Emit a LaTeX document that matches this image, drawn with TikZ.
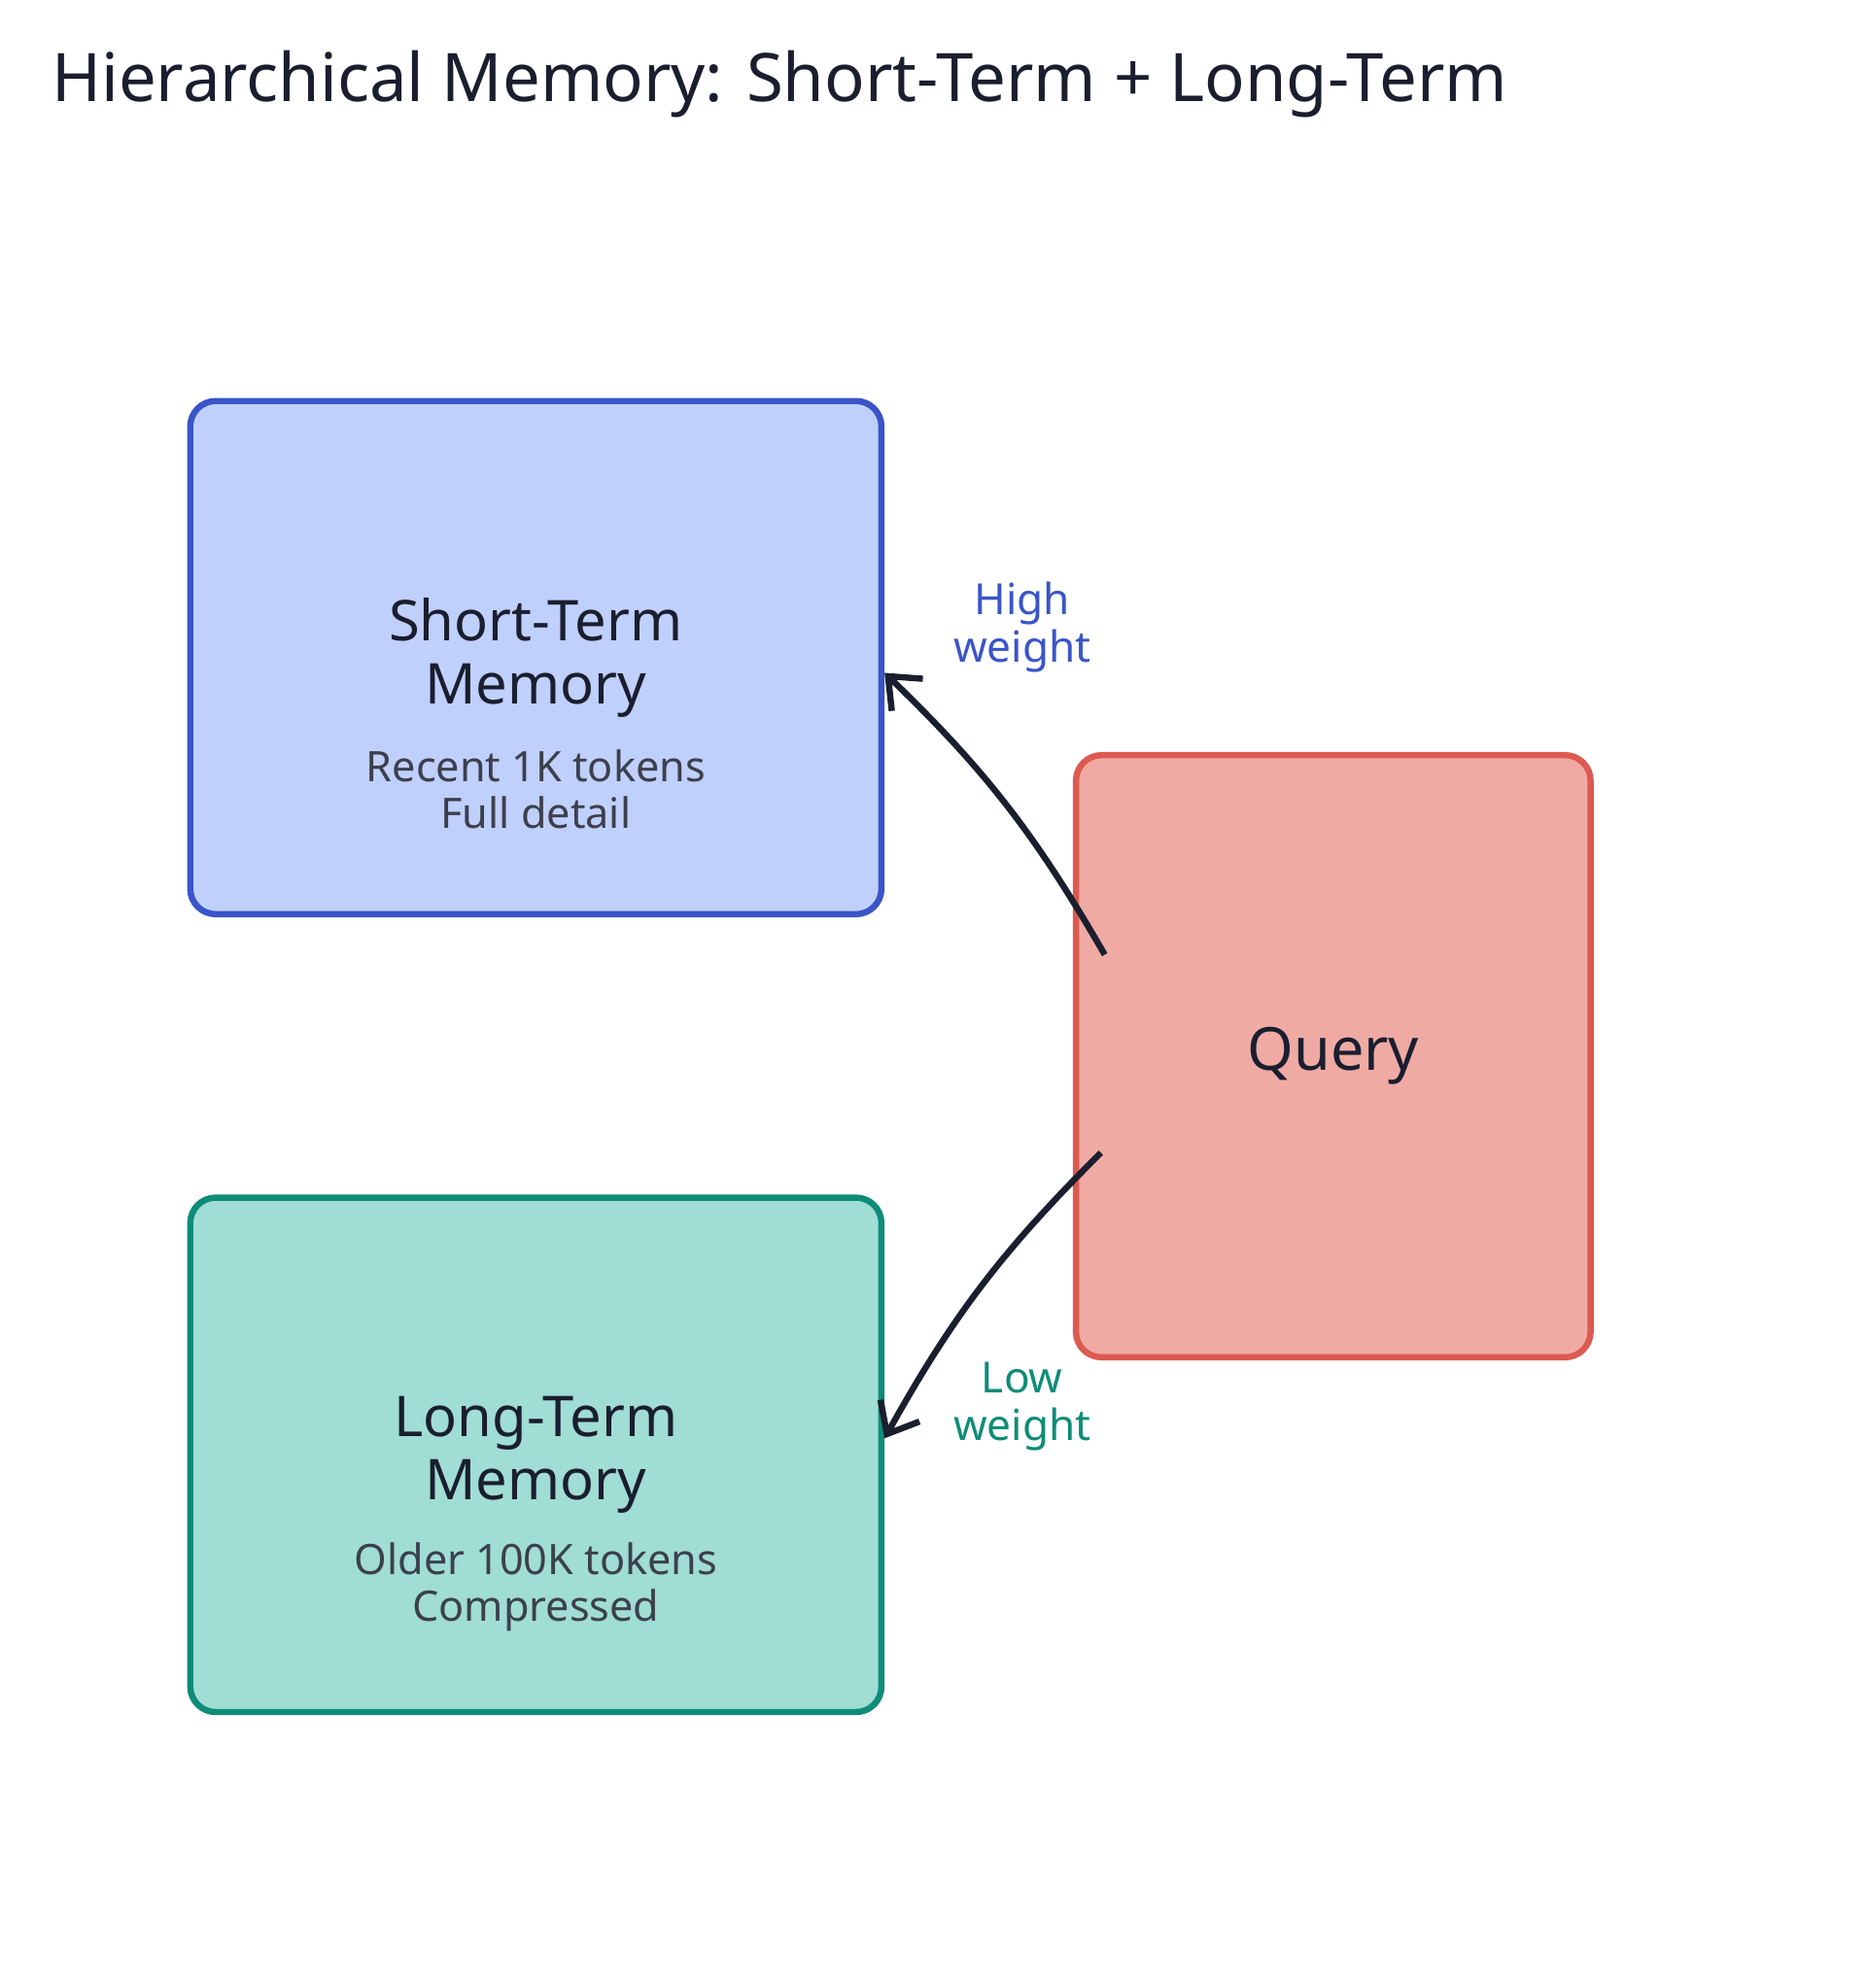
\documentclass[tikz,border=0pt]{standalone}
\usepackage{fontspec}
\setmainfont{Noto Sans}
\usetikzlibrary{arrows.meta}
\definecolor{stfill}{HTML}{C0D0FC}
\definecolor{stline}{HTML}{3A55C8}
\definecolor{ltfill}{HTML}{A0DDD5}
\definecolor{ltline}{HTML}{0E8C78}
\definecolor{qfill}{HTML}{F0AAA4}
\definecolor{qline}{HTML}{DC5A50}
\definecolor{ink}{HTML}{1A1E2E}
\tikzset{
  box/.style={draw, line width=1.4pt, rounded corners=0.2cm, inner sep=0pt, align=center, text=ink},
  head/.style={align=center, text=ink, font=\fontsize{12.6}{14}\selectfont},
  sub/.style={align=center, text=ink!85, font=\fontsize{9.4}{10.5}\selectfont},
  link/.style={draw=ink, line width=1.4pt, -{Straight Barb[length=6pt,width=10pt]}},
  wlabel/.style={align=center, font=\fontsize{9.6}{10.5}\selectfont}
}
\begin{document}
\begin{tikzpicture}[x=0.01cm,y=-0.01cm]
                \useasboundingbox (0,0) rectangle (1470,1566);
                \node[anchor=base west, inner sep=0pt, text=ink, font=\fontsize{15}{16}\selectfont] (title) at (40,80) {Hierarchical Memory: Short-Term + Long-Term};
                % memory boxes
                \node[box, fill=stfill, draw=stline, minimum width=5.44cm, minimum height=4.04cm] (short) at (422,518) {};
                \node[head] (shorthead) at (422,518) {Short-Term\\Memory};
                \node[sub] (shortsub) at (422,622) {Recent 1K tokens\\Full detail};
                \node[box, fill=ltfill, draw=ltline, minimum width=5.44cm, minimum height=4.05cm] (long) at (422,1146) {};
                \node[head] (longhead) at (422,1146) {Long-Term\\Memory};
                \node[sub] (longsub) at (422,1250) {Older 100K tokens\\Compressed};
                \node[box, fill=qfill, draw=qline, minimum width=4.05cm, minimum height=4.74cm, font=\fontsize{13.3}{15}\selectfont] (query) at (1050,832) {Query};
                % weighted links
                \coordinate (qa) at (870,752);
                \coordinate (qb) at (867,908);
                \draw[link] (qa) to[bend right=8] (short.east |- 0,530);
                \draw[link] (qb) to[bend left=-8] (long.east |- 0,1133);
                \node[wlabel, text=stline] (high) at (805,494) {High\\weight};
                \node[wlabel, text=ltline] (low) at (805,1108) {Low\\weight};
\end{tikzpicture}
\end{document}
